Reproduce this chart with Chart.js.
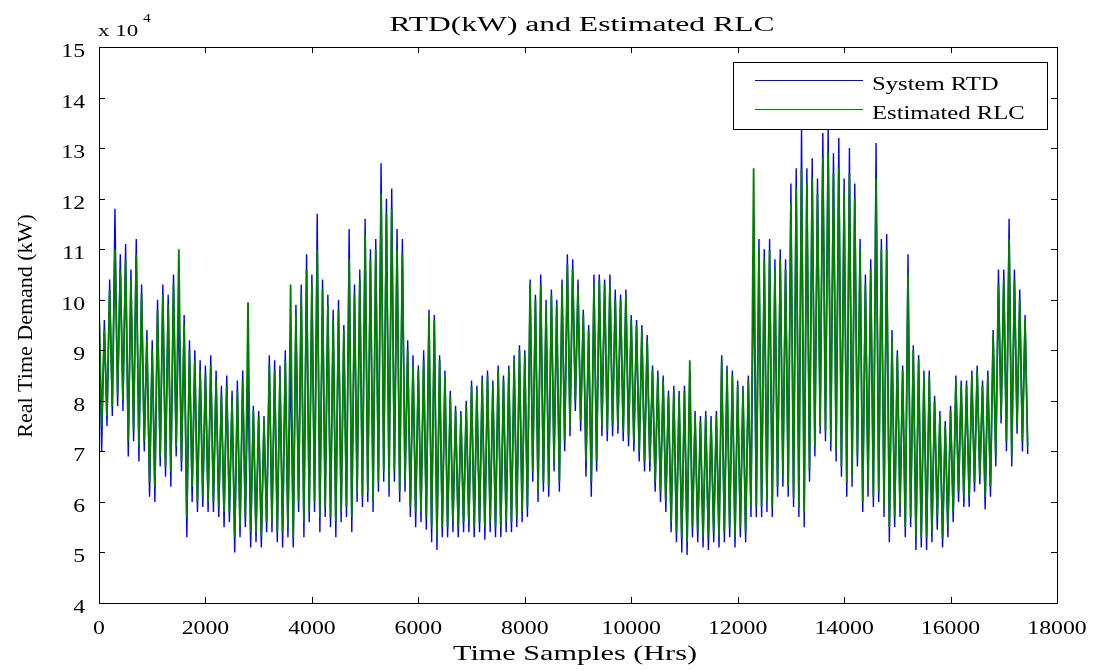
<!DOCTYPE html>
<html>
<head>
    <title>RTD(kW) and Estimated RLC</title>
    <script src="https://cdn.jsdelivr.net/npm/chart.js"></script>
    <style>
        body { margin: 0; background: #ffffff; }
    </style>
</head>
<body>
    <canvas id="mainChart" width="1102" height="671"></canvas>
    <script>
        // values in units of 10^4 kW
        // one swing every 100 samples: peak at k*100, trough at k*100+50
        const cycleHrs = 100;

        const rtdHigh = [10.0, 9.6, 10.4, 11.8, 10.9, 11.1, 10.6, 11.2, 10.3, 9.4,
            9.2, 10.0, 10.3, 10.1, 10.5, 9.9, 9.7, 9.2, 9.0, 8.8,
            8.7, 8.9, 8.6, 8.3, 8.5, 8.2, 8.4, 8.6, 8.5, 7.9,
            7.8, 7.7, 8.9, 8.8, 8.7, 9.0, 8.8, 9.9, 10.3, 10.9,
            10.5, 11.7, 10.4, 10.1, 9.8, 10.0, 9.5, 11.4, 10.3, 10.6,
            11.6, 11.0, 11.2, 12.7, 12.0, 12.2, 11.4, 11.2, 9.2, 8.9,
            8.7, 9.0, 9.8, 9.7, 8.9, 8.6, 8.2, 7.9, 7.8, 8.0,
            8.4, 8.3, 8.5, 8.6, 8.4, 8.7, 8.5, 8.7, 8.9, 9.1,
            9.0, 10.4, 10.1, 10.5, 10.0, 10.2, 10.0, 10.4, 10.9, 10.8,
            10.4, 9.8, 9.5, 10.5, 10.5, 10.4, 10.5, 10.2, 10.1, 10.2,
            9.7, 9.6, 9.5, 9.3, 8.7, 8.6, 8.5, 8.2, 8.3, 8.2,
            8.3, 8.6, 7.8, 7.7, 7.8, 7.7, 7.8, 8.9, 8.7, 8.6,
            8.4, 8.3, 8.5, 10.8, 11.2, 11.0, 11.2, 10.8, 11.0, 10.8,
            12.3, 12.6, 13.4, 12.6, 12.8, 12.4, 13.3, 13.4, 12.9, 13.2,
            12.4, 13.0, 12.3, 11.2, 10.5, 10.8, 13.1, 11.2, 11.3, 9.4,
            9.0, 8.7, 10.9, 9.1, 8.9, 8.6, 8.6, 8.1, 7.8, 7.6,
            7.9, 8.5, 8.4, 8.4, 8.6, 8.7, 8.4, 8.6, 9.4, 10.6,
            10.6, 11.6, 10.6, 10.2, 9.7];

        const rtdLow = [7.0, 7.5, 7.7, 7.9, 7.8, 6.9, 7.2, 6.8, 7.0, 6.1,
            6.0, 6.7, 6.5, 6.3, 6.9, 6.6, 5.3, 6.0, 5.8, 5.9,
            5.8, 5.8, 5.7, 5.5, 5.6, 5.0, 5.3, 5.5, 5.1, 5.2,
            5.1, 5.4, 5.4, 5.2, 5.1, 5.3, 5.1, 5.8, 5.3, 5.6,
            5.8, 5.4, 5.7, 5.5, 5.3, 5.6, 5.7, 5.4, 6.0, 5.9,
            6.0, 5.8, 6.2, 6.4, 6.1, 6.4, 6.0, 6.2, 5.7, 5.5,
            5.6, 5.45, 5.2, 5.05, 5.3, 5.3, 5.4, 5.3, 5.4, 5.4,
            5.3, 5.4, 5.25, 5.4, 5.3, 5.3, 5.4, 5.4, 5.5, 5.6,
            5.7, 6.4, 6.0, 6.2, 6.1, 6.6, 6.2, 7.0, 7.3, 7.8,
            7.4, 6.5, 6.1, 6.6, 7.3, 7.2, 7.3, 7.35, 7.2, 7.1,
            7.0, 6.8, 6.6, 6.6, 6.2, 6.0, 5.8, 5.4, 5.2, 5.0,
            4.95, 5.3, 5.2, 5.1, 5.05, 5.2, 5.1, 5.2, 5.3, 5.1,
            5.3, 5.2, 5.7, 5.7, 5.7, 5.8, 5.7, 6.1, 6.3, 6.1,
            5.9, 5.7, 5.5, 6.4, 6.9, 7.35, 7.2, 7.0, 6.8, 6.5,
            6.1, 6.3, 6.7, 5.8, 6.1, 5.9, 6.0, 5.7, 5.2, 5.5,
            5.7, 5.3, 5.5, 5.05, 5.1, 5.05, 5.2, 5.45, 5.1, 5.3,
            5.6, 6.0, 5.9, 5.9, 6.2, 6.35, 5.85, 6.1, 6.7, 7.55,
            7.0, 6.7, 7.35, 7.0, 6.95];

        const rlcHigh = [9.8, 9.4, 10.2, 11.0, 10.6, 10.8, 10.4, 10.9, 10.1, 9.2,
            9.0, 9.8, 10.1, 9.9, 10.3, 11.0, 9.5, 9.0, 8.8, 8.6,
            8.5, 8.7, 8.4, 8.1, 8.3, 8.0, 8.2, 8.4, 9.95, 7.8,
            7.7, 7.6, 8.7, 8.6, 8.5, 8.8, 10.3, 9.7, 10.1, 10.6,
            10.3, 11.0, 10.2, 9.9, 9.6, 9.8, 9.4, 10.8, 10.1, 10.4,
            11.3, 10.8, 11.0, 12.1, 11.7, 11.8, 11.0, 10.9, 9.0, 8.7,
            8.6, 8.8, 9.7, 9.6, 8.8, 8.5, 8.1, 7.8, 7.7, 7.9,
            8.3, 8.2, 8.4, 8.5, 8.3, 8.6, 8.4, 8.6, 8.8, 9.0,
            8.9, 10.3, 10.0, 10.3, 9.9, 10.1, 9.9, 10.3, 10.7, 10.6,
            10.2, 9.7, 9.4, 10.3, 10.4, 10.3, 10.3, 10.0, 10.0, 10.1,
            9.6, 9.5, 9.4, 9.2, 8.6, 8.5, 8.4, 8.1, 8.2, 8.1,
            8.2, 8.8, 7.7, 7.6, 7.7, 7.6, 7.7, 8.8, 8.6, 8.5,
            8.3, 8.2, 8.4, 12.6, 11.0, 10.8, 11.0, 10.6, 10.8, 10.6,
            11.9, 12.2, 12.6, 12.3, 12.4, 12.1, 12.8, 12.9, 12.5, 12.6,
            12.1, 12.5, 12.0, 11.0, 10.3, 10.6, 12.4, 11.0, 11.0, 9.2,
            8.9, 8.6, 10.5, 9.0, 8.8, 8.5, 8.5, 8.0, 7.7, 7.5,
            7.8, 8.4, 8.3, 8.3, 8.5, 8.6, 8.3, 8.5, 9.3, 10.3,
            10.4, 11.2, 10.4, 10.0, 9.6];

        const rlcLow = [7.5, 7.7, 7.9, 8.1, 8.0, 7.2, 7.4, 7.1, 7.2, 6.4,
            6.3, 6.9, 6.7, 6.6, 7.1, 6.8, 5.7, 6.3, 6.0, 6.1,
            6.0, 6.0, 5.9, 5.8, 5.8, 5.3, 5.5, 5.7, 5.4, 5.4,
            5.3, 5.6, 5.6, 5.4, 5.4, 5.5, 5.3, 6.0, 5.6, 5.8,
            6.0, 5.7, 5.9, 5.7, 5.6, 5.8, 5.9, 5.7, 6.2, 6.1,
            6.2, 6.0, 6.4, 6.6, 6.3, 6.6, 6.2, 6.4, 5.9, 5.8,
            5.8, 5.7, 5.5, 5.3, 5.5, 5.5, 5.6, 5.5, 5.6, 5.6,
            5.5, 5.6, 5.5, 5.6, 5.5, 5.5, 5.6, 5.6, 5.7, 5.8,
            5.9, 6.6, 6.2, 6.4, 6.3, 6.8, 6.4, 7.2, 7.5, 8.0,
            7.6, 6.8, 6.4, 6.8, 7.5, 7.4, 7.5, 7.5, 7.4, 7.3,
            7.2, 7.0, 6.8, 6.8, 6.4, 6.2, 6.0, 5.6, 5.4, 5.3,
            5.2, 5.5, 5.4, 5.3, 5.3, 5.4, 5.3, 5.4, 5.5, 5.3,
            5.5, 5.4, 5.9, 5.9, 5.9, 6.0, 5.9, 6.3, 6.5, 6.3,
            6.1, 5.9, 5.8, 6.6, 7.1, 7.5, 7.4, 7.2, 7.0, 6.7,
            6.4, 6.5, 6.9, 6.0, 6.3, 6.1, 6.2, 5.9, 5.5, 5.7,
            5.9, 5.5, 5.7, 5.3, 5.3, 5.3, 5.4, 5.7, 5.3, 5.5,
            5.8, 6.2, 6.1, 6.1, 6.4, 6.5, 6.1, 6.3, 6.9, 7.7,
            7.2, 6.9, 7.5, 7.2, 7.1];

        const seriesNames = ['System RTD', 'Estimated RLC'];
        const seriesColors = ['#0000ff', '#008000'];

        // peaks and troughs -> points along the hour axis
        const toPoints = (hi, lo) => {
            const pts = [];
            hi.forEach((v, k) => {
                pts.push({ x: k * cycleHrs, y: v });
                pts.push({ x: k * cycleHrs + cycleHrs / 2, y: lo[k] });
            });
            return pts;
        };

        const serif = '"Liberation Serif", "DejaVu Serif", serif';

        // stretched text, like the matlab export
        const putText = (ctx, str, x, y, size, align, hs, width) => {
            ctx.save();
            ctx.font = size + 'px ' + serif;
            ctx.fillStyle = '#000';
            ctx.textBaseline = 'alphabetic';
            if (width) hs = width / ctx.measureText(str).width;
            ctx.translate(x, y);
            ctx.scale(hs, 1);
            ctx.textAlign = align;
            ctx.fillText(str, 0, 0);
            ctx.restore();
        };

        const matlabFrame = {
            id: 'matlabFrame',
            afterDatasetsDraw(chart) {
                const ctx = chart.ctx;
                const a = chart.chartArea;
                const xs = chart.scales.x, ys = chart.scales.y;

                // legend box
                ctx.save();
                ctx.fillStyle = '#fff';
                ctx.fillRect(733, 62, 314, 67);
                ctx.strokeStyle = '#000';
                ctx.lineWidth = 1;
                ctx.strokeRect(733.5, 62.5, 314, 67);
                seriesNames.forEach((name, i) => {
                    const ly = 80 + i * 29;
                    ctx.strokeStyle = seriesColors[i];
                    ctx.beginPath();
                    ctx.moveTo(755, ly + 0.5);
                    ctx.lineTo(863, ly + 0.5);
                    ctx.stroke();
                    putText(ctx, name, 872, ly + 10, 18, 'left', 1.37);
                });
                ctx.restore();

                // axes box and inward ticks
                ctx.save();
                ctx.strokeStyle = '#000';
                ctx.lineWidth = 1;
                ctx.strokeRect(a.left + 0.5, a.top + 0.5, a.right - a.left, a.bottom - a.top);
                ctx.beginPath();
                xs.ticks.forEach(t => {
                    const px = Math.round(xs.getPixelForValue(t.value)) + 0.5;
                    ctx.moveTo(px, a.bottom); ctx.lineTo(px, a.bottom - 6);
                    ctx.moveTo(px, a.top); ctx.lineTo(px, a.top + 6);
                });
                ys.ticks.forEach(t => {
                    const py = Math.round(ys.getPixelForValue(t.value)) + 0.5;
                    ctx.moveTo(a.left, py); ctx.lineTo(a.left + 6, py);
                    ctx.moveTo(a.right, py); ctx.lineTo(a.right - 6, py);
                });
                ctx.stroke();
                ctx.restore();

                // tick labels
                xs.ticks.forEach(t => {
                    putText(ctx, String(t.value), xs.getPixelForValue(t.value), 634, 19, 'center', 1.25);
                });
                ys.ticks.forEach(t => {
                    putText(ctx, String(t.value), 85, ys.getPixelForValue(t.value) + 10, 19, 'right', 1.25);
                });

                // exponent label
                putText(ctx, 'x 10', 98, 36, 17, 'left', 1.35);
                putText(ctx, '4', 143, 22, 13, 'left', 1.2);

                // titles
                putText(ctx, 'RTD(kW) and Estimated RLC', 582, 31, 20, 'center', 1, 385);
                putText(ctx, 'Time Samples (Hrs)', 575, 660, 22, 'center', 1, 244);
                ctx.save();
                ctx.translate(32, 326);
                ctx.rotate(-Math.PI / 2);
                putText(ctx, 'Real Time Demand (kW)', 0, 0, 22, 'center', 1);
                ctx.restore();
            }
        };

        new Chart(document.getElementById('mainChart'), {
            type: 'line',
            data: {
                datasets: [
                    {
                        label: seriesNames[0],
                        data: toPoints(rtdHigh, rtdLow),
                        borderColor: seriesColors[0],
                        borderWidth: 1.4,
                        pointRadius: 0,
                        tension: 0,
                        fill: false,
                        order: 1
                    },
                    {
                        label: seriesNames[1],
                        data: toPoints(rlcHigh, rlcLow),
                        borderColor: seriesColors[1],
                        borderWidth: 1.8,
                        pointRadius: 0,
                        tension: 0,
                        fill: false,
                        order: 0
                    }
                ]
            },
            options: {
                responsive: false,
                animation: false,
                layout: { padding: { left: 0, top: 47, right: 45, bottom: 0 } },
                scales: {
                    x: {
                        type: 'linear',
                        min: 0,
                        max: 18000,
                        ticks: { stepSize: 2000, display: false },
                        grid: { display: false },
                        border: { display: false },
                        afterFit: s => { s.height = 68; }
                    },
                    y: {
                        type: 'linear',
                        min: 4,
                        max: 15,
                        ticks: { stepSize: 1, display: false },
                        grid: { display: false },
                        border: { display: false },
                        afterFit: s => { s.width = 99; }
                    }
                },
                plugins: {
                    legend: { display: false },
                    tooltip: { enabled: false },
                    title: { display: false }
                }
            },
            plugins: [matlabFrame]
        });
    </script>
</body>
</html>
